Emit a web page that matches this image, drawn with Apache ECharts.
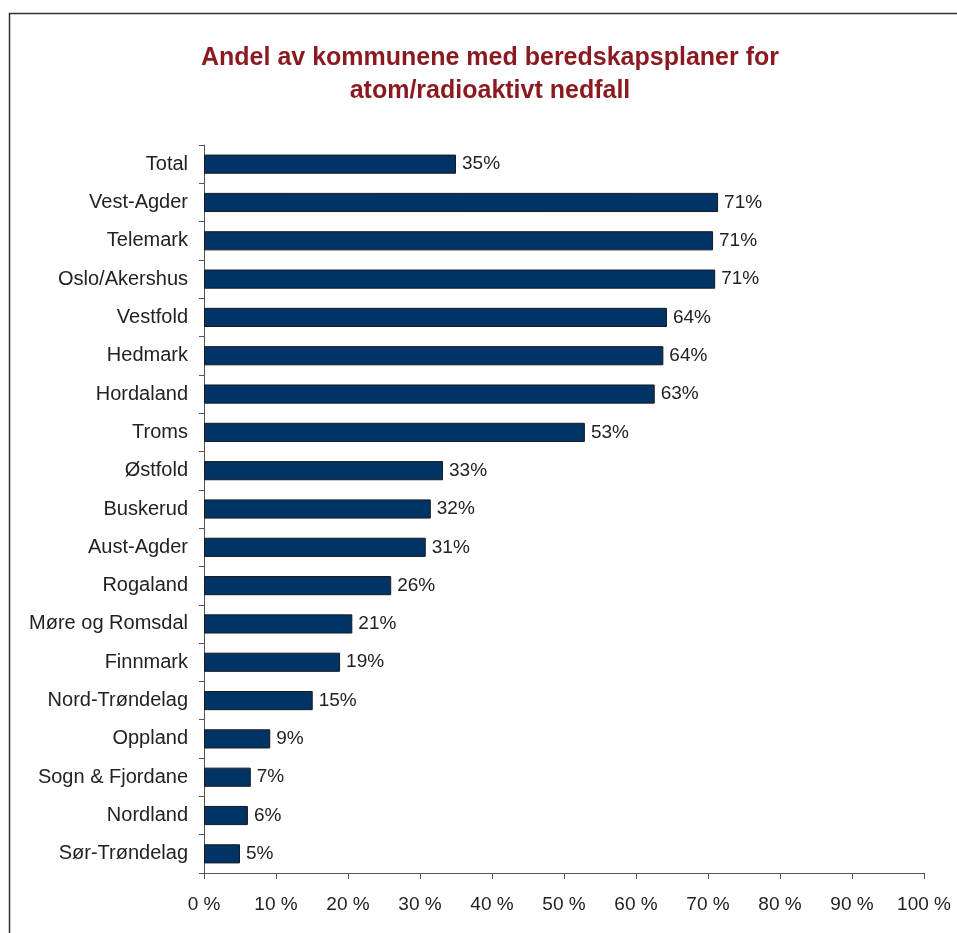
<!DOCTYPE html>
<html>
<head>
<meta charset="utf-8">
<script src="https://cdn.jsdelivr.net/npm/echarts@6/dist/echarts.min.js"></script>
<style>
html,body{margin:0;padding:0;background:#fff;}
#chart{width:957px;height:933px;}
</style>
</head>
<body>
<div id="chart"></div>
<script>
const categories = ["Total","Vest-Agder","Telemark","Oslo/Akershus","Vestfold","Hedmark","Hordaland","Troms","Østfold","Buskerud","Aust-Agder","Rogaland","Møre og Romsdal","Finnmark","Nord-Trøndelag","Oppland","Sogn & Fjordane","Nordland","Sør-Trøndelag"];
const values = [35, 71.4, 70.7, 71, 64.3, 63.8, 62.6, 52.9, 33.2, 31.5, 30.8, 26, 20.6, 18.9, 15.1, 9.2, 6.5, 6.1, 5];
const xTicks = [0,10,20,30,40,50,60,70,80,90,100];
const titleText = "Andel av kommunene med beredskapsplaner for\natom/radioaktivt nedfall";

const chart = echarts.init(document.getElementById('chart'), null, {renderer:'canvas'});
const font = '"Liberation Sans", Arial, sans-serif';
chart.setOption({
  animation:false,
  backgroundColor:'#fff',
  textStyle:{fontFamily:font},
  graphic:[{type:'rect', shape:{x:9.5,y:13.5,width:1000,height:1000}, style:{fill:'none',stroke:'#333',lineWidth:1.5}, silent:true}],
  title:{
    text:titleText,
    left:485, top:37, textAlign:'center',
    textStyle:{fontFamily:font,fontSize:25,fontWeight:'bold',color:'#8a1a1f',lineHeight:33}
  },
  grid:{left:204,right:33,top:145,bottom:60,containLabel:false},
  xAxis:{
    type:'value', min:xTicks[0], max:xTicks[xTicks.length-1], interval:10,
    axisLine:{show:true,lineStyle:{color:'#555',width:1}},
    axisTick:{show:true,length:6,lineStyle:{color:'#555'}},
    splitLine:{show:false},
    axisLabel:{margin:22,fontSize:19,color:'#222',fontFamily:font,formatter:v=>v+' %'}
  },
  yAxis:{
    type:'category', data:categories, inverse:true,
    axisLine:{show:true,lineStyle:{color:'#555',width:1}},
    axisTick:{show:true,length:5,lineStyle:{color:'#555'}},
    axisLabel:{margin:16,fontSize:20,color:'#222',fontFamily:font}
  },
  series:[{
    type:'bar', data:values, barCategoryGap:'50%',
    itemStyle:{color:'#003366',borderColor:'#1a1a1a',borderWidth:1},
    label:{show:true,position:'right',distance:6,fontSize:19,color:'#222',fontFamily:font,formatter:p=>Math.round(p.value)+'%'}
  }]
});
</script>
</body>
</html>
